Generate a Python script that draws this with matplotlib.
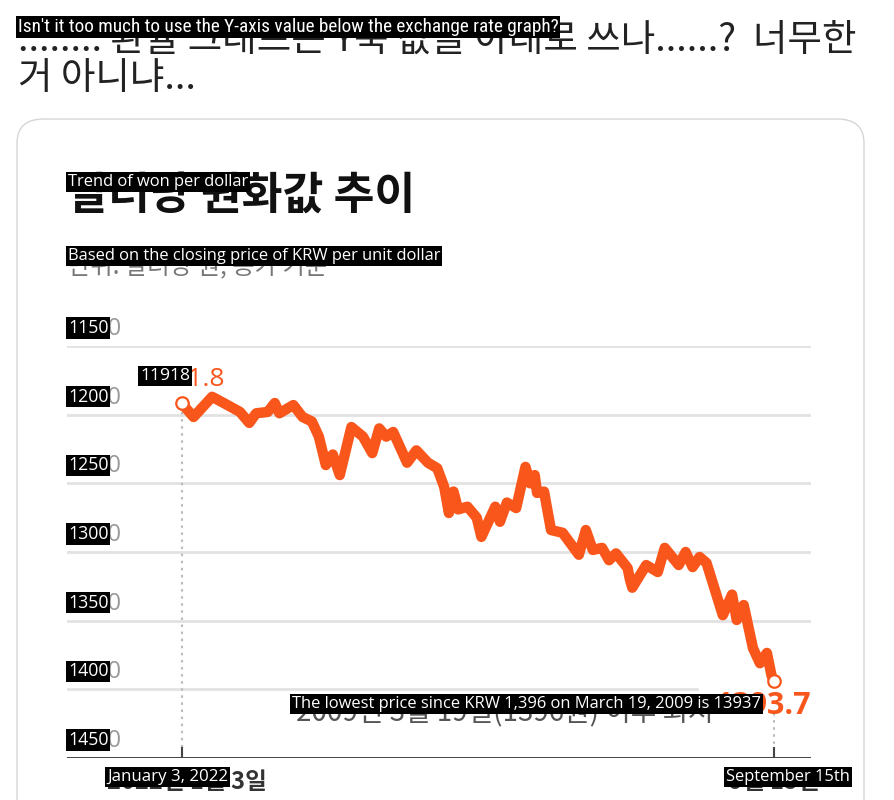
import pandas as pd
import matplotlib.pyplot as plt
from matplotlib.patches import FancyBboxPatch

# USD/KRW closing price (days counted from 2022-01-03)
days = [0, 5, 13, 18, 25, 29, 32, 37, 40, 42, 48, 52, 56, 59, 62, 65, 68,
        73, 78, 82, 85, 88, 91, 97, 101, 106, 110, 113, 115, 117, 119, 123,
        127, 129, 135, 137, 140, 144, 148, 150, 152, 153, 156, 159, 164, 171,
        174, 177, 181, 184, 187, 192, 193, 194, 200, 205, 208, 214, 217, 220,
        223, 226, 233, 237, 239, 242, 246, 249, 252, 254, 255]
krw = [1191.8, 1201.7, 1187, 1191.5, 1198, 1206, 1199, 1198, 1191.5, 1199,
       1193, 1201.7, 1205, 1216, 1236.7, 1229, 1244, 1209, 1216, 1228, 1210,
       1216, 1212.6, 1235, 1226, 1235, 1239, 1252.7, 1271.6, 1256, 1269, 1267,
       1275, 1289, 1267, 1278, 1264, 1268, 1238, 1250, 1244, 1257, 1256, 1284,
       1286, 1302, 1284, 1298.5, 1297, 1306, 1301, 1311.7, 1320, 1326, 1309.5,
       1314.6, 1297, 1309.5, 1300, 1311, 1303.6, 1308, 1346, 1331, 1349.5,
       1338.6, 1370, 1381, 1373.5, 1390, 1393.7]
yticks = [1150, 1200, 1250, 1300, 1350, 1400, 1450]

start = pd.Timestamp("2022-01-03")
dates = start + pd.to_timedelta(days, unit="D")
x_lo = start - pd.Timedelta(days=49.5)
x_hi = start + pd.Timedelta(days=271)

W, H = 895, 800
ORANGE = "#f9561c"
KR = ["Noto Sans CJK KR", "DejaVu Sans"]
EN = ["Open Sans", "DejaVu Sans"]

fig = plt.figure(figsize=(W / 100, H / 100), dpi=100)


def px(x, y):
    return x / W, 1 - y / H


def ftext(x, y, s, **kw):
    fig.text(*px(x, y), s, **kw)


def overlay(x, y, s, size=11.9, family=EN):
    # black translation box laid over the original text
    fig.text(*px(x, y), s, color="white", fontsize=size, family=family,
             va="center", ha="left", zorder=20,
             bbox=dict(facecolor="black", edgecolor="none", pad=1.2))


# tweet text
ftext(18, 40, "........ 환율 그래프는 Y축 값을 아래로 쓰나......?  너무한",
      fontsize=27, family=KR, va="center", color="#222222", weight="light")
ftext(18, 78, "거 아니냐...", fontsize=27, family=KR, va="center",
      color="#222222", weight="light")
overlay(18, 27, "Isn't it too much to use the Y-axis value below the exchange rate graph?",
        size=13.9, family=["Roboto Condensed", "Roboto", "DejaVu Sans"])

# card around the attached image
card = FancyBboxPatch((17 / W, -0.2), 847 / W, 1.2 - 119 / H,
                      boxstyle="round,pad=0,rounding_size=0.03",
                      transform=fig.transFigure, facecolor="white",
                      edgecolor="#d6d6d6", linewidth=1.0, zorder=-1)
fig.patches.append(card)

# chart title and subtitle
ftext(68, 196, "달러당 원화값 추이", fontsize=32, family=KR, weight="bold",
      va="center", color="#111111")
overlay(68, 182, "Trend of won per dollar")
ftext(68, 267, "단위: 달러당 원, 종가 기준", fontsize=17.5, family=KR,
      va="center", color="#777777")
overlay(68, 256, "Based on the closing price of KRW per unit dollar")

# plot area
ax = fig.add_axes([67 / W, 1 - 758 / H, (811 - 67) / W, (758 - 346) / H])
ax.axis("off")

for v in yticks[:-2]:
    ax.plot([x_lo, x_hi], [v, v], color="#e2e2e2", linewidth=2, zorder=1)
ax.plot([x_lo, start + pd.Timedelta(days=222)], [1400, 1400],
        color="#e2e2e2", linewidth=2, zorder=1)
ax.plot([x_lo, x_hi], [1450, 1450], color="#444444", linewidth=1.4, zorder=2)

# dotted guides at first and last day
ax.plot([dates[0], dates[0]], [krw[0] + 6, 1450], color="#bbbbbb",
        linestyle=(0, (1.2, 2.2)), linewidth=1.5, zorder=1)
ax.plot([dates[-1], dates[-1]], [1417, 1450], color="#bbbbbb",
        linestyle=(0, (1.2, 2.2)), linewidth=1.5, zorder=1)
for d in (dates[0], dates[-1]):
    ax.plot([d, d], [1443, 1450], color="#444444", linewidth=1.5, zorder=2)

ax.plot(dates, krw, color=ORANGE, linewidth=7.5, solid_joinstyle="round",
        solid_capstyle="round", zorder=3)
ax.plot([dates[0], dates[-1]], [krw[0], krw[-1]], "o", markersize=9,
        markerfacecolor="white", markeredgecolor=ORANGE, markeredgewidth=1.6,
        zorder=4)

ax.set_xlim(x_lo, x_hi)
ax.set_ylim(1450, 1150)

# y labels, original text then its overlay
for v in yticks:
    y = 346 + (v - 1150) * (758 - 346) / 300 - 17
    ftext(68, y, f"{v}", fontsize=17, family=EN, va="center", color="#999999")
    overlay(68, y - 1, f"{v}", size=12.8)

# value labels
ftext(143, 380, f"{krw[0]:.1f}", fontsize=19, family=EN, va="center",
      color=ORANGE)
overlay(140, 376, "11918", size=12.6)
ftext(811, 706, f"{krw[-1]:.1f}", fontsize=22, family=EN, weight="bold",
      va="center", ha="right", color=ORANGE)
ftext(296, 713, "2009년 3월 19일(1396원) 이후 최저", fontsize=20, family=KR,
      va="center", color="#555555")
overlay(292, 704, "The lowest price since KRW 1,396 on March 19, 2009 is 13937")

# x labels
ftext(107, 782, "2022년 1월 3일", fontsize=17, family=KR, weight="bold",
      va="center", color="#333333")
overlay(107, 777, "January 3, 2022", size=12.2)
ftext(774, 782, "9월 15일", fontsize=17, family=KR, weight="bold",
      va="center", ha="center", color="#333333")
overlay(726, 777, "September 15th")

fig.savefig("out.png", dpi=100, facecolor="white")
